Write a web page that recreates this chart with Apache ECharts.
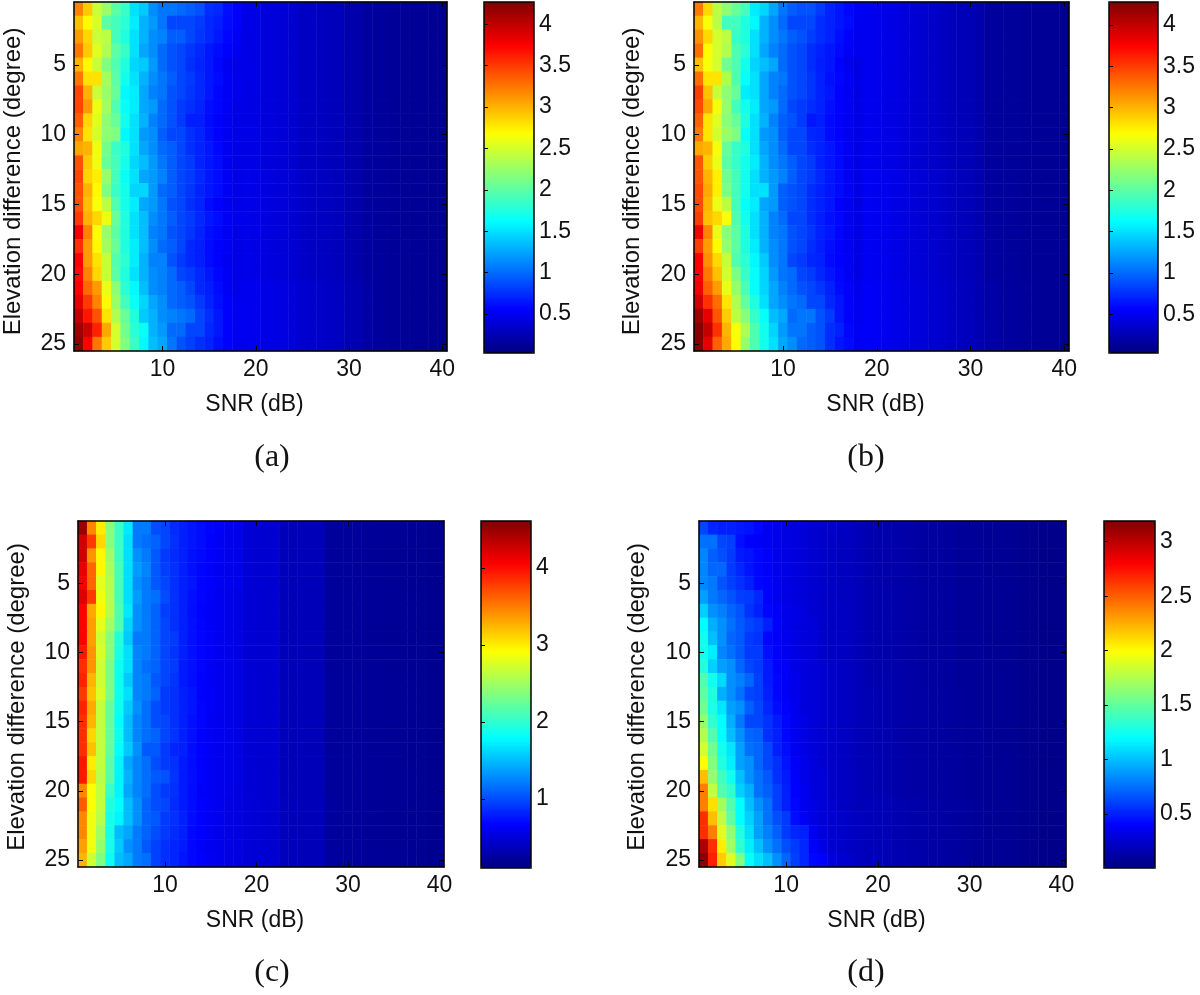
<!DOCTYPE html>
<html>
<head>
<meta charset="utf-8">
<title>Elevation difference vs SNR</title>
<script src="https://cdn.jsdelivr.net/npm/echarts@6/dist/echarts.min.js"></script>
<style>
html, body { margin: 0; padding: 0; background: #fff; }
#chart { width: 1200px; height: 995px; }
</style>
</head>
<body>
<div id="chart"></div>
<script>
const snrValues = Array.from({ length: 40 }, (_, i) => String(i + 1))
const elevValues = Array.from({ length: 25 }, (_, i) => String(i + 1))
const snrTicks = [10, 20, 30, 40]
const elevTicks = [5, 10, 15, 20, 25]
const panelLabels = ['(a)', '(b)', '(c)', '(d)']

// SNR 1..18, one line per elevation row
const headA = [
  [320,290,245,225,200,185,150,140,115,105,105,100,95,90,75,72,62,55],
  [295,270,250,200,190,180,155,130,120,105,85,85,85,80,72,68,60,55],
  [310,285,245,240,190,175,150,130,115,110,95,95,85,78,72,65,58,52],
  [325,290,255,235,200,185,150,125,115,100,90,85,78,72,65,60,55,50],
  [300,270,245,215,195,175,145,140,120,100,90,85,75,70,65,58,50,45],
  [325,280,280,230,200,170,150,130,115,105,95,85,80,72,65,60,52,48],
  [345,300,245,225,205,160,155,125,110,105,90,85,78,72,65,58,52,48],
  [345,310,260,230,195,165,155,125,120,100,90,80,75,70,62,58,52,46],
  [335,285,255,220,205,170,150,130,110,100,90,80,68,68,60,56,50,45],
  [320,280,250,220,215,160,150,120,115,95,85,85,75,70,62,55,50,45],
  [305,300,260,210,185,175,150,125,115,100,95,85,75,70,65,58,50,46],
  [340,290,260,205,190,170,145,135,120,105,95,85,80,70,65,60,50,46],
  [345,285,275,225,190,165,150,125,120,110,95,85,80,72,65,60,52,46],
  [340,300,270,215,185,170,145,145,120,100,95,85,78,70,65,60,52,46],
  [340,295,265,240,195,170,155,125,120,105,90,85,75,70,60,55,50,46],
  [350,300,285,260,205,175,150,135,115,105,95,85,80,72,65,60,52,48],
  [380,320,265,225,200,175,150,135,110,105,90,85,78,70,62,58,52,46],
  [355,310,270,230,205,175,155,135,115,100,95,85,72,68,60,56,52,45],
  [375,310,280,245,195,180,155,130,110,110,90,80,72,68,60,55,50,46],
  [370,320,285,245,200,175,150,130,115,110,100,85,80,72,65,58,52,46],
  [375,330,310,260,220,180,160,135,115,110,100,95,85,72,68,60,52,46],
  [385,350,320,270,225,190,165,145,125,115,100,95,90,80,70,62,55,48],
  [400,365,340,280,235,205,175,140,130,115,110,105,100,85,75,65,55,50],
  [415,395,360,305,250,210,180,165,130,120,100,100,85,85,72,65,56,50],
  [420,375,325,290,250,215,185,160,135,125,105,90,82,75,70,62,56,50]
]
const headB = [
  [325,285,240,220,205,190,155,145,125,105,95,90,90,80,70,65,58,52],
  [300,265,240,190,190,175,160,130,115,100,85,85,85,75,70,65,60,50],
  [315,285,250,240,185,175,150,130,115,105,95,90,82,75,70,62,55,50],
  [330,270,250,235,195,180,150,125,110,100,90,85,75,70,65,60,52,50],
  [295,265,250,210,195,170,145,135,125,100,90,85,75,68,65,56,48,44],
  [330,280,280,235,195,165,150,125,110,105,90,85,78,70,62,58,52,46],
  [350,295,245,220,205,155,150,125,110,100,90,85,78,70,65,56,50,46],
  [345,305,265,225,190,170,155,125,120,100,85,80,75,70,62,56,52,45],
  [335,280,255,220,205,175,150,130,110,95,90,80,65,68,60,55,50,45],
  [325,280,250,225,215,165,150,120,115,95,85,85,72,70,60,55,50,45],
  [305,300,265,205,185,175,150,125,115,100,85,85,75,70,65,58,50,46],
  [340,290,260,200,185,170,155,130,115,105,95,85,80,70,65,60,50,46],
  [340,300,275,210,190,170,150,130,120,110,95,85,80,72,65,60,50,46],
  [345,305,275,215,190,170,150,150,120,95,90,85,75,70,65,60,52,46],
  [345,300,260,240,190,165,155,125,120,95,90,85,75,70,65,55,50,44],
  [350,295,285,265,195,170,150,130,110,100,85,85,75,68,62,58,50,45],
  [380,320,260,220,200,175,150,130,110,105,90,85,78,70,65,58,50,45],
  [350,310,270,225,200,175,155,130,115,105,90,85,75,68,62,56,50,46],
  [375,315,285,245,195,180,160,140,115,105,85,80,72,70,60,56,52,45],
  [375,325,295,250,215,185,165,145,120,105,100,85,80,72,65,58,52,46],
  [380,335,310,260,225,195,165,145,125,110,100,90,85,78,70,60,55,48],
  [395,355,330,280,235,205,175,150,125,115,105,100,85,85,72,65,55,50],
  [415,385,340,290,240,220,185,165,135,125,100,105,105,90,80,65,55,50],
  [425,400,355,300,265,235,195,170,145,120,105,105,95,90,75,70,58,52],
  [425,385,335,305,270,225,195,170,150,125,115,100,95,90,75,65,60,50]
]
const headC = [
  [450,345,300,240,205,170,120,120,100,97,85,80,75,71,68,63,59,57],
  [425,380,310,240,205,165,120,115,110,97,87,80,75,71,66,61,59,57],
  [425,340,295,250,205,165,130,120,105,92,85,80,73,70,66,61,58,57],
  [415,360,295,255,210,165,135,125,105,94,87,80,73,68,64,60,57,57],
  [410,360,280,260,210,165,130,120,105,97,87,80,75,68,66,61,59,57],
  [420,380,285,260,210,165,135,120,115,100,87,80,73,68,64,60,57,55],
  [405,330,295,260,215,170,130,120,110,94,87,80,72,66,62,60,57,55],
  [405,335,280,250,215,160,130,120,110,97,87,80,73,68,64,60,57,55],
  [405,335,270,240,195,155,120,120,110,97,92,80,73,68,64,60,57,55],
  [395,340,275,240,190,165,125,120,110,97,89,80,73,68,64,59,57,55],
  [385,340,270,235,185,165,125,115,110,97,92,78,73,68,62,59,57,55],
  [390,325,270,235,185,155,125,120,105,97,89,78,72,66,62,59,57,55],
  [380,320,275,235,185,165,125,120,110,92,87,80,75,66,64,59,57,55],
  [390,330,265,225,185,155,130,115,100,92,87,80,75,68,64,59,57,55],
  [385,325,265,225,180,150,125,115,100,97,87,80,73,68,62,59,57,55],
  [385,310,265,225,185,150,125,115,110,97,89,80,73,66,62,59,57,55],
  [385,320,265,225,180,155,130,105,105,92,82,80,71,66,62,59,57,55],
  [395,300,265,220,175,140,125,115,100,92,87,78,71,66,62,59,57,55],
  [395,310,260,220,175,145,125,115,105,102,89,78,72,66,62,59,57,55],
  [345,290,265,205,175,140,125,115,100,92,87,78,71,64,62,59,57,53],
  [365,290,265,195,180,150,130,110,100,97,85,78,71,66,62,59,55,53],
  [345,285,260,190,175,150,130,110,105,92,87,80,71,66,62,59,55,53],
  [345,285,250,190,150,140,120,110,100,92,85,80,69,66,62,57,55,53],
  [335,285,245,190,155,130,120,105,95,87,82,78,69,64,60,57,55,53],
  [325,270,235,185,150,140,120,115,95,87,82,75,69,66,62,57,55,53]
]
const headD = [
  [62,52,50,50,48,46,42,36,34,32,30,28,26,24,24,22,20,18],
  [75,75,62,60,45,40,38,36,34,32,30,28,26,24,22,20,20,18],
  [82,70,65,58,48,46,42,38,34,32,30,28,26,24,22,20,20,18],
  [82,72,72,58,52,46,42,38,34,32,30,28,26,24,22,20,20,18],
  [82,78,66,60,55,50,42,40,35,32,30,28,26,24,22,20,20,18],
  [90,78,72,66,60,58,52,40,36,33,30,28,26,24,22,20,20,18],
  [105,85,80,72,66,56,50,42,38,34,32,30,26,24,22,22,20,18],
  [120,95,85,75,68,62,58,50,40,34,32,30,28,24,22,22,20,18],
  [125,100,85,72,68,58,56,42,38,36,32,30,28,24,22,22,20,18],
  [125,115,82,75,68,58,58,45,40,36,32,30,28,24,22,22,20,18],
  [130,105,90,85,72,62,58,48,40,38,32,30,28,26,24,22,20,18],
  [145,125,108,85,80,72,60,48,42,38,34,30,28,26,24,22,20,18],
  [150,130,95,85,75,62,60,50,42,38,34,30,28,26,24,22,20,18],
  [155,128,112,90,85,70,62,52,44,40,35,30,28,26,24,22,20,18],
  [165,135,120,95,78,62,62,56,48,42,36,32,28,26,24,22,20,18],
  [175,145,120,100,85,72,70,55,50,42,36,32,28,26,24,22,20,18],
  [185,155,125,112,90,75,72,62,50,44,36,32,28,26,24,22,20,18],
  [200,160,130,115,90,85,72,62,55,46,38,34,30,26,24,22,20,18],
  [220,165,140,125,100,85,75,68,55,48,40,34,30,28,24,22,20,18],
  [240,180,145,135,105,95,75,70,60,50,40,36,30,28,24,22,20,18],
  [240,210,170,145,120,100,85,75,60,50,42,36,32,28,26,22,20,18],
  [265,220,180,150,120,105,90,75,65,58,44,38,32,28,26,24,22,20],
  [265,240,190,165,130,110,90,80,70,58,52,50,36,30,26,24,22,20],
  [305,265,205,170,135,115,100,85,75,65,58,52,38,32,26,24,22,20],
  [315,270,215,190,160,122,110,100,85,72,60,52,42,40,30,26,24,20]
]

// SNR 19..40, the far side barely changes by row so it is read per block: rows 1-12, 13-20, 21-25
const tailA = [
  [46,45,42,41,39,37,32,31,30,28,27,22,21,16,15,14,13,13,12,12,11,11],
  [47,46,43,42,40,38,33,32,31,29,28,23,21,16,15,14,13,13,12,12,11,11],
  [50,49,46,45,43,41,36,35,34,32,30,25,23,18,16,14,13,13,12,12,11,11]
]
const tailB = [
  [50,48,46,44,42,38,36,34,32,28,27,26,22,16,15,14,14,13,13,12,12,11],
  [52,50,48,46,43,40,38,36,34,30,28,27,23,17,16,15,14,13,13,12,12,11],
  [54,52,50,47,45,42,40,37,35,32,30,28,24,20,18,16,15,14,13,12,12,11]
]
const tailC = [
  [48,47,46,46,36,35,35,35,35,23,22,22,22,21,21,20,20,19,18,18,17,17],
  [48,47,46,46,36,35,35,35,35,23,22,22,22,21,21,20,20,19,18,18,17,17],
  [49,48,47,46,37,36,35,35,35,24,23,22,22,21,21,20,20,19,18,18,17,17]
]
const tailD = [
  [16,15,14,14,13,12,11,11,10,10,8,8,8,7,7,6,6,5,5,4,4,4],
  [17,16,15,14,13,12,12,11,10,10,9,8,8,7,7,6,6,5,5,4,4,4],
  [19,18,17,16,15,14,13,12,11,11,10,9,8,7,7,6,6,5,5,4,4,4]
]

const colorMinValues = [0.03, 0.03, 0.1, 0.005]
const colorMaxValues = [4.27, 4.28, 4.61, 3.19]
const colorbarTicksAB = [0.5, 1, 1.5, 2, 2.5, 3, 3.5, 4]
const colorbarTicksC = [1, 2, 3, 4]
const colorbarTicksD = [0.5, 1, 1.5, 2, 2.5, 3]

const heads = [headA, headB, headC, headD]
const tails = [tailA, tailB, tailC, tailD]
const colorbarTicks = [colorbarTicksAB, colorbarTicksAB, colorbarTicksC, colorbarTicksD]

// plot box and colorbar box of each panel
const layout = [
  { left: 74, top: 2, width: 373, height: 349, barLeft: 484, barTop: 2, barWidth: 50, barHeight: 351, labelX: 272, labelTop: 442, yGap: 49, yShift: 10 },
  { left: 694, top: 2, width: 375, height: 349, barLeft: 1109, barTop: 2, barWidth: 49, barHeight: 351, labelX: 866, labelTop: 442, yGap: 50, yShift: 10 },
  { left: 78, top: 521, width: 366, height: 346, barLeft: 481, barTop: 521, barWidth: 50, barHeight: 347, labelX: 272, labelTop: 957, yGap: 49, yShift: 6 },
  { left: 699, top: 521, width: 367, height: 346, barLeft: 1104, barTop: 521, barWidth: 51, barHeight: 347, labelX: 866, labelTop: 957, yGap: 50, yShift: 6 }
]

const jet = ['#000080', '#0000ff', '#0080ff', '#00ffff', '#80ff80', '#ffff00', '#ff8000', '#ff0000', '#800000']
const fontName = '"Liberation Sans", Arial, sans-serif'
const textColor = '#111'
const tickFont = 23

function buildCells(head, tail) {
  const cells = []
  head.forEach((row, r) => {
    const block = r < 12 ? 0 : r < 20 ? 1 : 2
    row.concat(tail[block]).forEach((v, c) => {
      cells.push([c, r, v / 100])
    })
  })
  return cells
}

const axisLine = { show: true, onZero: false, lineStyle: { color: '#000', width: 1.5 } }

function catTicks(values) {
  return {
    show: true,
    inside: true,
    length: 5,
    alignWithLabel: true,
    interval: (i, v) => values.includes(Number(v)),
    lineStyle: { color: '#000', width: 1 }
  }
}

const option = {
  animation: false,
  backgroundColor: '#fff',
  title: [],
  grid: [],
  xAxis: [],
  yAxis: [],
  visualMap: [],
  series: []
}

layout.forEach((p, i) => {
  const gridIdx = i * 2
  const barIdx = i * 2 + 1
  const xBase = option.xAxis.length
  const yBase = option.yAxis.length

  option.title.push({
    text: panelLabels[i],
    left: p.labelX,
    top: p.labelTop,
    textAlign: 'center',
    padding: 0,
    textStyle: { fontFamily: '"Liberation Serif", serif', fontSize: 32, fontWeight: 'normal', color: textColor }
  })

  option.grid.push(
    { left: p.left, top: p.top, width: p.width, height: p.height },
    { left: p.barLeft, top: p.barTop, width: p.barWidth, height: p.barHeight, show: true, z: 5,
      borderColor: '#000', borderWidth: 1.5, backgroundColor: 'transparent' }
  )

  option.xAxis.push(
    {
      type: 'category', gridIndex: gridIdx, data: snrValues, position: 'bottom', z: 5,
      name: 'SNR (dB)', nameLocation: 'middle', nameGap: 42, nameMoveOverlap: false,
      nameTextStyle: { fontFamily: fontName, fontSize: tickFont, color: textColor, padding: [0, 12, 0, 0] },
      axisLine: axisLine,
      axisTick: catTicks(snrTicks),
      splitLine: { show: false },
      axisLabel: {
        interval: (idx, v) => snrTicks.includes(Number(v)),
        fontFamily: fontName, fontSize: tickFont, color: textColor, margin: 7
      }
    },
    {
      type: 'category', gridIndex: gridIdx, data: snrValues, position: 'top', z: 5,
      axisLine: axisLine,
      axisTick: catTicks(snrTicks),
      splitLine: { show: false },
      axisLabel: { show: false }
    },
    { type: 'value', gridIndex: barIdx, min: 0, max: 1, show: false }
  )

  option.yAxis.push(
    {
      type: 'category', gridIndex: gridIdx, data: elevValues, inverse: true, position: 'left', z: 5,
      name: 'Elevation difference (degree)', nameLocation: 'middle', nameGap: p.yGap, nameMoveOverlap: false,
      nameTextStyle: { fontFamily: fontName, fontSize: 24, color: textColor, padding: [0, p.yShift, 0, 0] },
      axisLine: axisLine,
      axisTick: catTicks(elevTicks),
      splitLine: { show: false },
      axisLabel: {
        interval: (idx, v) => elevTicks.includes(Number(v)),
        fontFamily: fontName, fontSize: tickFont, color: textColor, margin: 8
      }
    },
    {
      type: 'category', gridIndex: gridIdx, data: elevValues, inverse: true, position: 'right', z: 5,
      axisLine: axisLine,
      axisTick: catTicks(elevTicks),
      splitLine: { show: false },
      axisLabel: { show: false }
    },
    {
      type: 'value', gridIndex: barIdx, position: 'right', z: 6,
      min: colorMinValues[i], max: colorMaxValues[i],
      axisLine: { show: false },
      splitLine: { show: false },
      axisTick: { show: true, inside: false, length: 4, customValues: colorbarTicks[i], lineStyle: { color: '#000', width: 1 } },
      axisLabel: {
        customValues: colorbarTicks[i],
        fontFamily: fontName, fontSize: tickFont, color: textColor, margin: 5
      }
    }
  )

  option.visualMap.push({
    type: 'continuous',
    seriesIndex: i,
    dimension: 2,
    min: colorMinValues[i],
    max: colorMaxValues[i],
    calculable: false,
    hoverLink: false,
    orient: 'vertical',
    left: p.barLeft,
    top: p.barTop,
    itemWidth: p.barWidth,
    itemHeight: p.barHeight,
    padding: 0,
    z: 1,
    inRange: { color: jet }
  })

  option.series.push({
    type: 'heatmap',
    xAxisIndex: xBase,
    yAxisIndex: yBase,
    data: buildCells(heads[i], tails[i]),
    progressive: 0,
    emphasis: { disabled: true }
  })
})

const myChart = echarts.init(document.getElementById('chart'), null, { renderer: 'canvas' })
myChart.setOption(option)
</script>
</body>
</html>
